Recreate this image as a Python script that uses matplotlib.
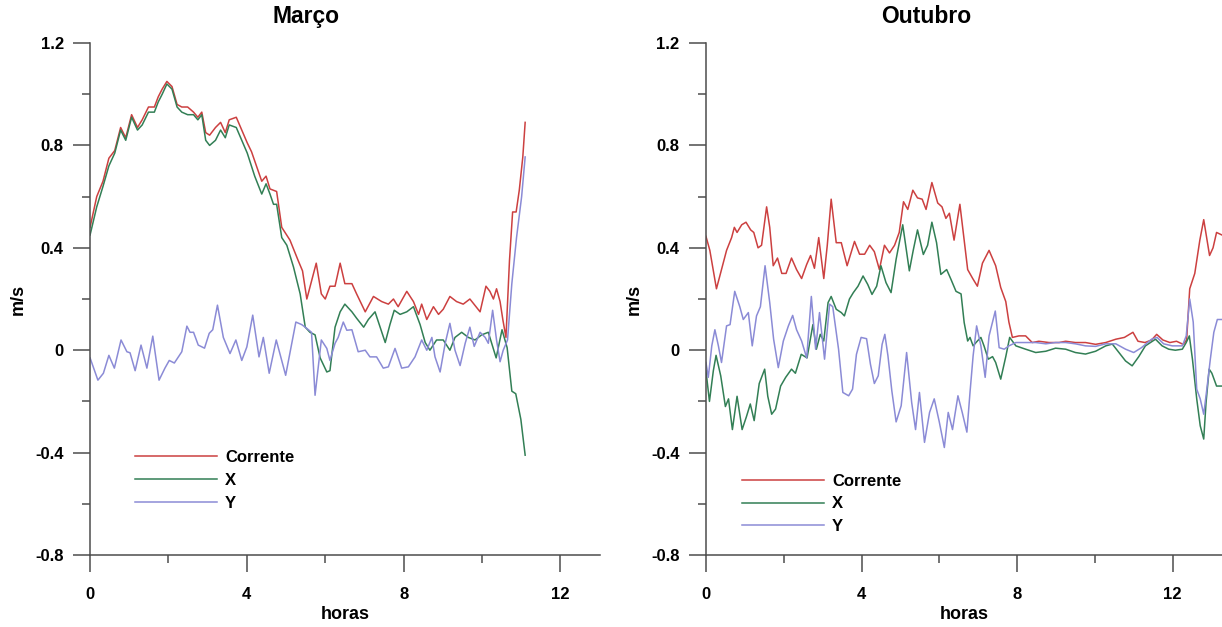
import matplotlib
matplotlib.use("Agg")
import matplotlib.pyplot as plt

plt.rcParams['font.family'] = ['Liberation Sans', 'DejaVu Sans']
plt.rcParams['font.weight'] = 'bold'

# ---- dados ----
titulos = ['Março', 'Outubro']
series = ['Corrente', 'X', 'Y']
cores = ['#cc4040', '#327f55', '#8b8bd6']

yticks = [-0.8, -0.4, 0, 0.4, 0.8, 1.2]
yticklabels = ['-0.8', '-0.4', '0', '0.4', '0.8', '1.2']
xticks = [0, 4, 8, 12]
xticklabels = ['0', '4', '8', '12']

# Março
t_mar_c = [0.0, 0.17, 0.33, 0.48, 0.63, 0.78, 0.91, 1.06, 1.21, 1.33, 1.49, 1.64, 1.74, 1.84,
           1.96, 2.09, 2.22, 2.34, 2.49, 2.64, 2.75, 2.85, 2.95, 3.05, 3.20, 3.33, 3.45, 3.55,
           3.73, 3.87, 4.01, 4.12, 4.38, 4.49, 4.59, 4.76, 4.89, 5.10, 5.31, 5.42, 5.53, 5.65,
           5.77, 5.90, 6.00, 6.12, 6.25, 6.38, 6.50, 6.68, 6.80, 7.02, 7.23, 7.44, 7.61, 7.74,
           7.86, 8.08, 8.25, 8.38, 8.46, 8.59, 8.76, 8.89, 9.01, 9.18, 9.35, 9.52, 9.69, 9.95,
           10.10, 10.20, 10.29, 10.37, 10.46, 10.53, 10.61, 10.70, 10.78, 10.87, 10.95, 11.04, 11.10]
v_mar_c = [0.48, 0.60, 0.66, 0.75, 0.78, 0.87, 0.83, 0.92, 0.87, 0.90, 0.95, 0.95, 0.99, 1.02,
           1.05, 1.03, 0.96, 0.95, 0.95, 0.93, 0.91, 0.93, 0.85, 0.84, 0.87, 0.89, 0.85, 0.90,
           0.91, 0.86, 0.81, 0.775, 0.66, 0.68, 0.63, 0.62, 0.48, 0.43, 0.35, 0.31, 0.20, 0.27,
           0.34, 0.22, 0.20, 0.25, 0.25, 0.34, 0.26, 0.26, 0.22, 0.15, 0.21, 0.19, 0.18, 0.20,
           0.17, 0.23, 0.19, 0.14, 0.18, 0.12, 0.17, 0.14, 0.16, 0.21, 0.19, 0.18, 0.20, 0.15,
           0.25, 0.23, 0.20, 0.24, 0.19, 0.12, 0.05, 0.35, 0.54, 0.54, 0.625, 0.755, 0.89]

t_mar_x = [0.0, 0.17, 0.33, 0.48, 0.63, 0.78, 0.91, 1.06, 1.21, 1.33, 1.49, 1.64, 1.74, 1.84,
           1.96, 2.09, 2.22, 2.34, 2.49, 2.64, 2.75, 2.85, 2.95, 3.05, 3.20, 3.33, 3.45, 3.55,
           3.73, 3.87, 4.01, 4.20, 4.38, 4.49, 4.59, 4.68, 4.76, 4.89, 5.02, 5.19, 5.36, 5.49,
           5.61, 5.74, 5.87, 6.04, 6.12, 6.25, 6.38, 6.50, 6.68, 6.80, 6.98, 7.10, 7.27, 7.40,
           7.53, 7.65, 7.76, 7.91, 8.08, 8.25, 8.42, 8.55, 8.67, 8.84, 9.01, 9.18, 9.31, 9.48,
           9.65, 9.82, 9.99, 10.16, 10.36, 10.51, 10.64, 10.76, 10.86, 10.99, 11.10]
v_mar_x = [0.45, 0.56, 0.64, 0.72, 0.77, 0.86, 0.82, 0.91, 0.86, 0.88, 0.93, 0.93, 0.97, 1.00,
           1.04, 1.02, 0.95, 0.93, 0.92, 0.92, 0.90, 0.92, 0.82, 0.80, 0.82, 0.86, 0.83, 0.88,
           0.87, 0.82, 0.77, 0.68, 0.61, 0.65, 0.61, 0.57, 0.57, 0.44, 0.41, 0.325, 0.22, 0.09,
           0.07, 0.06, -0.03, -0.085, -0.08, 0.09, 0.15, 0.18, 0.15, 0.125, 0.09, 0.12, 0.15, 0.09,
           0.03, 0.10, 0.156, 0.14, 0.15, 0.17, 0.10, 0.03, 0.0, 0.04, 0.04, 0.0, 0.05, 0.07,
           0.05, 0.04, 0.06, 0.07, -0.03, 0.08, 0.01, -0.16, -0.17, -0.27, -0.41]

t_mar_y = [0.0, 0.20, 0.34, 0.48, 0.62, 0.79, 0.94, 1.02, 1.15, 1.30, 1.45, 1.60, 1.76, 1.91,
           2.02, 2.15, 2.34, 2.47, 2.55, 2.64, 2.76, 2.92, 3.04, 3.13, 3.25, 3.40, 3.57, 3.72,
           3.87, 4.00, 4.15, 4.31, 4.42, 4.57, 4.75, 4.99, 5.25, 5.40, 5.53, 5.65, 5.74, 5.90,
           6.04, 6.12, 6.25, 6.33, 6.46, 6.55, 6.68, 6.84, 7.02, 7.14, 7.31, 7.48, 7.61, 7.78,
           7.95, 8.12, 8.29, 8.46, 8.59, 8.72, 8.80, 8.93, 9.06, 9.18, 9.31, 9.44, 9.57, 9.69,
           9.80, 9.95, 10.08, 10.16, 10.27, 10.37, 10.46, 10.54, 10.65, 10.76, 10.88, 11.01, 11.10]
v_mar_y = [-0.03, -0.117, -0.09, -0.02, -0.07, 0.04, -0.006, -0.01, -0.08, 0.02, -0.07, 0.055,
           -0.117, -0.07, -0.04, -0.05, -0.006, 0.094, 0.07, 0.07, 0.02, 0.008, 0.066, 0.08,
           0.176, 0.05, -0.013, 0.04, -0.04, 0.013, 0.137, -0.026, 0.05, -0.09, 0.04, -0.098,
           0.11, 0.10, 0.085, 0.07, -0.176, 0.04, 0.007, -0.04, 0.027, 0.05, 0.11, 0.078, 0.08,
           -0.006, 0.0, -0.026, -0.026, -0.07, -0.065, 0.007, -0.07, -0.065, -0.026, 0.04, 0.0,
           0.05, -0.026, -0.085, 0.027, 0.105, 0.0, -0.06, 0.027, 0.09, 0.015, 0.07, 0.05, 0.027,
           0.156, 0.04, -0.045, 0.0, 0.04, 0.26, 0.44, 0.60, 0.755]

# Outubro
t_out_c = [0.0, 0.10, 0.27, 0.40, 0.53, 0.66, 0.73, 0.80, 0.92, 1.03, 1.15, 1.23, 1.34, 1.43,
           1.56, 1.64, 1.73, 1.84, 1.95, 2.06, 2.20, 2.33, 2.46, 2.59, 2.69, 2.79, 2.90, 3.03,
           3.12, 3.22, 3.35, 3.48, 3.63, 3.82, 3.95, 4.08, 4.21, 4.33, 4.46, 4.59, 4.72, 4.85,
           4.97, 5.08, 5.19, 5.32, 5.44, 5.56, 5.66, 5.81, 5.96, 6.07, 6.17, 6.26, 6.38, 6.53,
           6.64, 6.73, 6.86, 6.98, 7.11, 7.28, 7.45, 7.58, 7.71, 7.79, 7.88, 8.05, 8.22, 8.39,
           8.56, 8.82, 9.08, 9.25, 9.50, 9.76, 10.02, 10.28, 10.54, 10.76, 10.98, 11.11, 11.29,
           11.46, 11.59, 11.75, 11.93, 12.10, 12.27, 12.36, 12.44, 12.57, 12.70, 12.80, 12.95,
           13.04, 13.13, 13.27]
v_out_c = [0.445, 0.39, 0.24, 0.315, 0.39, 0.44, 0.48, 0.46, 0.49, 0.50, 0.47, 0.46, 0.40, 0.41,
           0.56, 0.48, 0.33, 0.36, 0.30, 0.30, 0.36, 0.315, 0.28, 0.335, 0.37, 0.32, 0.44, 0.28,
           0.41, 0.59, 0.42, 0.42, 0.33, 0.425, 0.375, 0.375, 0.41, 0.385, 0.315, 0.41, 0.38, 0.41,
           0.46, 0.58, 0.55, 0.625, 0.595, 0.59, 0.55, 0.655, 0.575, 0.56, 0.515, 0.535, 0.43, 0.57,
           0.43, 0.315, 0.28, 0.25, 0.34, 0.39, 0.33, 0.245, 0.19, 0.11, 0.05, 0.056, 0.056, 0.03,
           0.035, 0.03, 0.03, 0.035, 0.03, 0.03, 0.023, 0.03, 0.043, 0.05, 0.07, 0.035, 0.03,
           0.04, 0.062, 0.04, 0.03, 0.035, 0.023, 0.04, 0.24, 0.30, 0.43, 0.51, 0.37,
           0.40, 0.46, 0.45]

t_out_x = [0.0, 0.03, 0.09, 0.19, 0.26, 0.38, 0.50, 0.58, 0.68, 0.80, 0.93, 1.04, 1.14, 1.24,
           1.37, 1.51, 1.59, 1.69, 1.79, 1.92, 2.05, 2.20, 2.30, 2.45, 2.60, 2.75, 2.84, 2.94,
           3.03, 3.14, 3.22, 3.35, 3.48, 3.56, 3.69, 3.79, 3.91, 4.04, 4.16, 4.27, 4.39, 4.50,
           4.63, 4.76, 4.89, 5.06, 5.23, 5.33, 5.44, 5.59, 5.70, 5.81, 5.93, 6.04, 6.19, 6.30,
           6.43, 6.56, 6.64, 6.73, 6.79, 6.87, 6.98, 7.07, 7.15, 7.26, 7.37, 7.45, 7.58, 7.71,
           7.81, 7.97, 8.22, 8.48, 8.74, 8.99, 9.25, 9.50, 9.76, 10.02, 10.28, 10.45, 10.62,
           10.79, 10.96, 11.13, 11.30, 11.56, 11.73, 11.90, 12.07, 12.25, 12.35, 12.43, 12.51,
           12.62, 12.71, 12.80, 12.86, 12.94, 13.01, 13.13, 13.27]
v_out_x = [-0.08, -0.12, -0.20, -0.08, -0.02, -0.10, -0.22, -0.19, -0.31, -0.18, -0.31, -0.26,
           -0.21, -0.275, -0.13, -0.074, -0.18, -0.25, -0.23, -0.14, -0.106, -0.074, -0.09, -0.016,
           -0.03, 0.10, 0.004, 0.062, 0.036, 0.186, 0.21, 0.16, 0.147, 0.134, 0.20, 0.225, 0.25,
           0.29, 0.257, 0.218, 0.25, 0.33, 0.264, 0.225, 0.355, 0.49, 0.31, 0.39, 0.47, 0.374,
           0.41, 0.50, 0.42, 0.296, 0.315, 0.277, 0.23, 0.22, 0.108, 0.036, 0.05, 0.017, 0.036,
           0.05, 0.017, -0.035, -0.025, -0.048, -0.113, -0.025, 0.05, 0.017, 0.004, -0.009,
           -0.004, 0.008, 0.004, -0.009, -0.015, -0.004, 0.017, 0.024, -0.009, -0.042, -0.061,
           -0.025, 0.017, 0.043, 0.017, 0.004, 0.0, 0.004, 0.03, 0.056, -0.035, -0.19, -0.295,
           -0.347, -0.204, -0.074, -0.09, -0.14, -0.14]

t_out_y = [0.0, 0.06, 0.15, 0.23, 0.32, 0.40, 0.53, 0.62, 0.74, 0.87, 0.96, 1.09, 1.19, 1.30,
           1.40, 1.52, 1.64, 1.74, 1.86, 1.99, 2.12, 2.23, 2.33, 2.46, 2.59, 2.71, 2.82, 2.92,
           3.05, 3.18, 3.26, 3.41, 3.52, 3.67, 3.77, 3.87, 3.99, 4.13, 4.23, 4.33, 4.43, 4.53,
           4.60, 4.68, 4.78, 4.89, 5.02, 5.16, 5.29, 5.39, 5.49, 5.62, 5.75, 5.87, 6.00, 6.13,
           6.23, 6.34, 6.48, 6.59, 6.71, 6.79, 6.87, 6.96, 7.07, 7.18, 7.28, 7.44, 7.54, 7.67,
           7.79, 7.97, 8.22, 8.48, 8.74, 8.99, 9.25, 9.50, 9.76, 10.02, 10.28, 10.54, 10.79,
           11.00, 11.20, 11.46, 11.60, 11.77, 11.99, 12.25, 12.35, 12.44, 12.53, 12.62, 12.71,
           12.80, 12.88, 12.97, 13.06, 13.15, 13.27]
v_out_y = [-0.048, -0.106, 0.017, 0.08, 0.017, -0.048, 0.095, 0.10, 0.23, 0.17, 0.12, 0.147,
           0.017, 0.134, 0.17, 0.33, 0.186, 0.043, -0.068, 0.036, 0.095, 0.136, 0.08, 0.036,
           -0.03, 0.21, 0.004, 0.147, -0.035, 0.18, 0.17, 0.004, -0.165, -0.178, -0.152, -0.016,
           0.05, 0.045, -0.055, -0.13, -0.10, 0.023, 0.062, -0.022, -0.159, -0.28, -0.217, -0.009,
           -0.204, -0.31, -0.165, -0.36, -0.243, -0.19, -0.28, -0.38, -0.243, -0.31, -0.178,
           -0.243, -0.32, -0.165, -0.022, 0.095, 0.017, -0.106, 0.056, 0.153, 0.01, 0.004, 0.017,
           0.03, 0.03, 0.03, 0.025, 0.03, 0.03, 0.025, 0.017, 0.015, 0.025, 0.025, 0.004, -0.009,
           0.01, 0.043, 0.05, 0.025, 0.017, 0.017, 0.056, 0.20, 0.11, -0.152, -0.19, -0.25,
           -0.152, -0.035, 0.07, 0.12, 0.12]

dados = [
    [(t_mar_c, v_mar_c), (t_mar_x, v_mar_x), (t_mar_y, v_mar_y)],
    [(t_out_c, v_out_c), (t_out_x, v_out_x), (t_out_y, v_out_y)],
]

fig = plt.figure(figsize=(12.22, 6.27), dpi=100)
posicoes = [[0.0737, 0.1148, 0.4170, 0.8166], [0.5777, 0.1148, 0.4223, 0.8166]]
xmax = [13.0, 13.27]
titulo_x = [0.250, 0.758]
leg_pos = [(1.15, -0.39), (0.93, -0.482)]

for i in range(2):
    ax = fig.add_axes(posicoes[i])
    for (t, v), nome, cor in zip(dados[i], series, cores):
        ax.plot(t, v, color=cor, lw=1.1, label=nome)

    ax.set_xlim(0, xmax[i])
    ax.set_ylim(-0.8, 1.2)
    ax.set_xticks(xticks)
    ax.set_xticklabels(xticklabels)
    ax.set_xticks([2, 6, 10], minor=True)
    ax.set_yticks(yticks)
    ax.set_yticklabels(yticklabels)
    ax.set_yticks([-0.6, -0.2, 0.2, 0.6, 1.0], minor=True)

    for s in ['top', 'right']:
        ax.spines[s].set_visible(False)
    for s in ['left', 'bottom']:
        ax.spines[s].set_color('#4d4d4d')
        ax.spines[s].set_linewidth(1.1)

    ax.tick_params(which='major', direction='out', length=12, width=1.1, color='#4d4d4d',
                   labelsize=12, labelcolor='black')
    ax.tick_params(axis='x', which='major', pad=11)
    ax.tick_params(axis='y', which='major', pad=7)
    ax.tick_params(which='minor', direction='out', length=6, width=1.1, color='#4d4d4d')
    for lb in ax.get_xticklabels() + ax.get_yticklabels():
        lb.set_fontweight('bold')

    ax.set_xlabel('horas', fontsize=13, fontweight='bold', labelpad=3)
    ax.set_ylabel('m/s', fontsize=13, fontweight='bold', labelpad=6)

    fig.text(titulo_x[i], 0.973, titulos[i], fontsize=16.5, fontweight='bold',
             ha='center', va='center')

    ax.legend(loc='upper left', bbox_to_anchor=leg_pos[i], bbox_transform=ax.transData,
              frameon=False, handlelength=4.9, handletextpad=0.5,
              labelspacing=0.47, borderpad=0, borderaxespad=0,
              prop={'weight': 'bold', 'size': 12})

fig.savefig('out.png', dpi=100)
